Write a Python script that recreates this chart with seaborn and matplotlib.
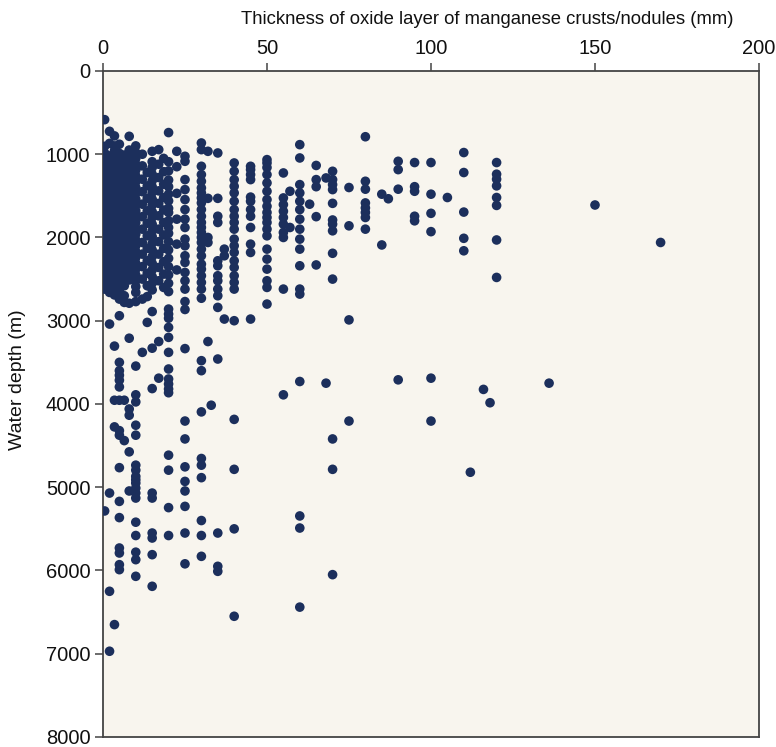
import numpy as np
import pandas as pd
import matplotlib
matplotlib.use("Agg")
import matplotlib.pyplot as plt
import seaborn as sns

# Oxide-layer thickness (mm) and water depth (m) of manganese crusts/nodules.
# Most thicknesses were recorded in whole 5 mm steps, so depths are grouped by
# thickness column; the remaining samples are listed individually below.
col_0_5 = [585, 905, 985, 1060, 1150, 1225, 1310, 1395, 1470, 1555, 1630, 1720, 1795,
           1880, 1960, 2045, 2120, 2210, 2285, 2370, 2450, 2540, 2620, 5285]
col_2 = [725, 870, 1020, 1105, 1180, 1265, 1340, 1430, 1505, 1590, 1665, 1750, 1835,
         1910, 1995, 2075, 2160, 2240, 2325, 2400, 2490, 2570, 2660, 3040, 5070, 6250, 6970]
col_3_5 = [780, 900, 960, 1045, 1130, 1210, 1290, 1370, 1455, 1540, 1615, 1700, 1780,
           1860, 1945, 2025, 2105, 2190, 2270, 2355, 2435, 2515, 2600, 2690, 3305, 3955,
           4275, 6650]
col_5 = [880, 990, 1075, 1160, 1240, 1320, 1405, 1485, 1570, 1650, 1730, 1815, 1895,
         1975, 2060, 2140, 2220, 2305, 2385, 2465, 2550, 2635, 2740, 2940, 3500, 3600,
         3655, 3715, 3795, 3955, 4320, 4375, 4765, 5170, 5365, 5730, 5790, 5930, 5990]
col_6_5 = [1010, 1095, 1175, 1260, 1345, 1425, 1510, 1590, 1675, 1755, 1840, 1920, 2000,
           2085, 2165, 2250, 2330, 2410, 2495, 2580, 2700, 2780, 3955, 4440]
col_8 = [785, 950, 1030, 1115, 1200, 1280, 1365, 1445, 1525, 1610, 1690, 1775, 1855,
         1935, 2020, 2100, 2185, 2265, 2345, 2430, 2510, 2790, 3210, 4060, 4135, 4575, 5045]
col_10 = [900, 980, 1050, 1120, 1190, 1260, 1330, 1400, 1470, 1540, 1610, 1680, 1750,
          1820, 1890, 1960, 2030, 2100, 2170, 2240, 2310, 2380, 2450, 2520, 2590, 2660,
          2770, 3545, 3890, 3975, 4255, 4375, 4735, 4795, 4870, 4910, 4950, 5010, 5070,
          5130, 5420, 5580, 5780, 5870, 6070]
col_12 = [1000, 1140, 1300, 1450, 1600, 1750, 1900, 2060, 2200, 2350, 2500, 2740, 3380]
col_13_5 = [1220, 1380, 1530, 1680, 1830, 1980, 2130, 2280, 2430, 2580, 2710, 3020]
col_15 = [965, 1090, 1160, 1240, 1320, 1390, 1460, 1540, 1610, 1690, 1760, 1840, 1920,
          1990, 2070, 2150, 2230, 2310, 2390, 2470, 2550, 2630, 2890, 3330, 3815, 5070,
          5130, 5550, 5610, 5810, 6190]
col_17 = [945, 1120, 1280, 1440, 1590, 1740, 1900, 2050, 2200, 2360, 2520, 3250, 3690]
col_18_5 = [1050, 1210, 1360, 1520, 1670, 1820, 1970, 2130, 2290, 2440, 2600]
col_20 = [740, 1090, 1200, 1310, 1390, 1480, 1560, 1650, 1700, 1800, 1880, 1950, 2050,
          2150, 2250, 2350, 2450, 2550, 2650, 2860, 2920, 2970, 3080, 3200, 3380, 3580,
          3700, 3760, 3820, 3865, 4615, 4795, 5245, 5580]
col_22_5 = [965, 1150, 1470, 1780, 2080, 2390]
col_25 = [1025, 1085, 1305, 1425, 1545, 1665, 1780, 1880, 2020, 2100, 2220, 2300, 2420,
          2520, 2620, 2770, 2865, 3335, 4205, 4420, 4755, 4930, 5045, 5230, 5550, 5920]
col_30 = [865, 945, 1145, 1245, 1325, 1405, 1465, 1525, 1585, 1665, 1745, 1820, 1880,
          1940, 2000, 2060, 2140, 2220, 2320, 2380, 2460, 2540, 2620, 2730, 3480, 3600,
          4095, 4655, 4735, 4885, 5400, 5580, 5830]
col_32 = [965, 1530, 2000, 2060, 3250]
col_35 = [985, 1530, 1745, 1820, 2280, 2340, 2460, 2520, 2620, 2700, 2840, 3460, 5550,
          5950, 6010]
col_37 = [2140, 2220, 2980]
col_40 = [1105, 1205, 1305, 1385, 1465, 1565, 1665, 1745, 1820, 1900, 2020, 2100, 2180,
          2280, 2360, 2460, 2540, 2620, 3000, 4185, 4785, 5500, 6550]
col_45 = [1145, 1185, 1245, 1305, 1515, 1565, 1665, 1745, 1880, 2080, 2180, 2980]
col_50 = [1065, 1105, 1160, 1245, 1345, 1445, 1545, 1625, 1700, 1760, 1820, 1900, 1980,
          2140, 2260, 2380, 2520, 2600, 2800]
col_55 = [1225, 1525, 1605, 1685, 1760, 1840, 1940, 2000, 2620, 3890]
col_60 = [885, 1045, 1365, 1465, 1565, 1665, 1780, 1900, 2020, 2140, 2340, 2620, 2680,
          3730, 5345, 5490, 6440]

column_thickness = [0.5, 2, 3.5, 5, 6.5, 8, 10, 12, 13.5, 15, 17, 18.5, 20, 22.5, 25,
                    30, 32, 35, 37, 40, 45, 50, 55, 60]
column_depths = [col_0_5, col_2, col_3_5, col_5, col_6_5, col_8, col_10, col_12,
                 col_13_5, col_15, col_17, col_18_5, col_20, col_22_5, col_25, col_30,
                 col_32, col_35, col_37, col_40, col_45, col_50, col_55, col_60]

# Thicker layers, sampled more sparsely
sparse_thickness = [33, 57, 57, 63, 65, 65, 65, 65, 65, 68, 68,
                    70, 70, 70, 70, 70, 70, 70, 70, 70, 70, 70, 70, 70,
                    75, 75, 75, 75,
                    80, 80, 80, 80, 80, 80, 80, 80,
                    85, 87, 85,
                    90, 90, 90, 90,
                    95, 95, 95, 95, 95,
                    100, 100, 100, 100, 100, 100,
                    105,
                    110, 110, 110, 110, 110,
                    112, 116, 118,
                    120, 120, 120, 120, 120, 120, 120, 120,
                    136, 150, 170]
sparse_depth = [4015, 1445, 1880, 1600, 1135, 1305, 1390, 1750, 2330, 1285, 3750,
                1205, 1305, 1365, 1425, 1590, 1790, 1840, 1920, 2190, 2500, 4420, 4785, 6050,
                1400, 1860, 2990, 4205,
                790, 1325, 1420, 1585, 1645, 1700, 1760, 1900,
                1480, 1535, 2090,
                1085, 1185, 1420, 3710,
                1100, 1390, 1445, 1745, 1800,
                1100, 1480, 1710, 1930, 3690, 4205,
                1520,
                980, 1220, 1695, 2010, 2160,
                4820, 3825, 3985,
                1100, 1240, 1300, 1380, 1520, 1615, 2030, 2480,
                3750, 1610, 2060]

x_ticks = [0, 50, 100, 150, 200]
y_ticks = [0, 1000, 2000, 3000, 4000, 5000, 6000, 7000, 8000]

thick = []
depth = []
for t, ds in zip(column_thickness, column_depths):
    thick.extend([t] * len(ds))
    depth.extend(ds)
thick.extend(sparse_thickness)
depth.extend(sparse_depth)
df = pd.DataFrame({"thickness": thick, "depth": depth})

sns.set_style("white")
plt.rcParams["font.family"] = ["Liberation Sans", "DejaVu Sans"]

fig = plt.figure(figsize=(7.76, 7.47), dpi=100)
ax = fig.add_axes([0.1327, 0.0134, 0.8454, 0.8916])
ax.set_facecolor("#f8f5ee")

sns.scatterplot(data=df, x="thickness", y="depth", ax=ax, s=48, color="#1c2f5c",
                edgecolor="none", linewidth=0, legend=False, zorder=3)

ax.set_xlim(0, 200)
ax.set_ylim(8000, 0)
ax.xaxis.tick_top()
ax.xaxis.set_label_position("top")
ax.set_xticks(x_ticks)
ax.set_yticks(y_ticks)
ax.set_xticklabels([str(v) for v in x_ticks])
ax.set_yticklabels([str(v) for v in y_ticks])
ax.tick_params(axis="both", direction="out", length=6, width=1.1, color="#444444",
               labelsize=14.5, labelcolor="#111111", pad=3)
ax.tick_params(axis="x", top=True, bottom=False)
ax.tick_params(axis="y", left=True, right=False)

ax.set_xlabel("Thickness of oxide layer of manganese crusts/nodules (mm)",
              fontsize=13.3, color="#111111")
ax.xaxis.set_label_coords(0.585, 1.071)
ax.set_ylabel("Water depth (m)", fontsize=14, color="#111111")
ax.yaxis.set_label_coords(-0.117, 0.536)

for sp in ax.spines.values():
    sp.set_visible(True)
    sp.set_color("#444444")
    sp.set_linewidth(1.3)

fig.savefig("out.png", dpi=100, facecolor="white")
